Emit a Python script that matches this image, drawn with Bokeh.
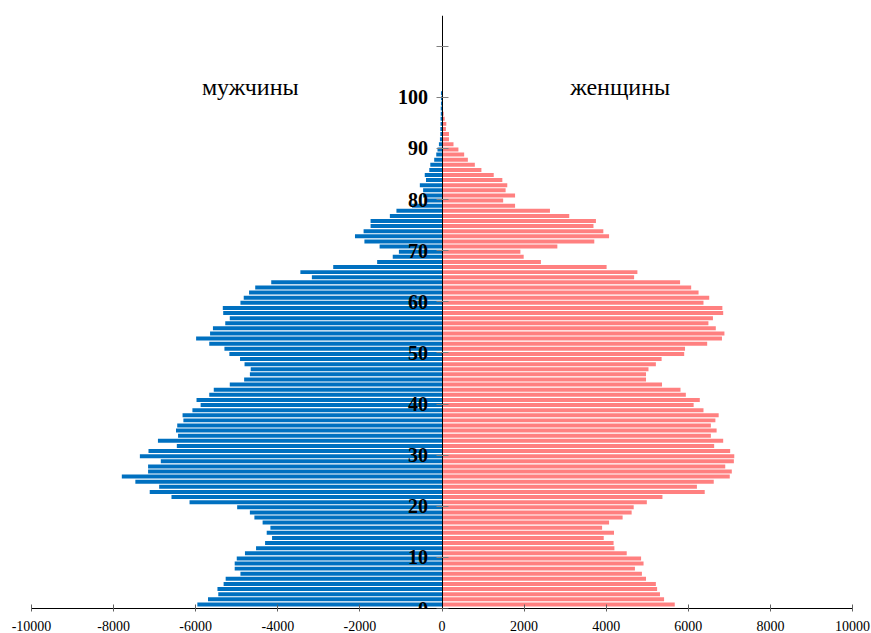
from bokeh.plotting import figure
from bokeh.models import FixedTicker, Range1d, Label, ColumnDataSource
from bokeh.embed import file_html
from bokeh.resources import INLINE

# ---- data ----
ages = list(range(0, 101))

male = [
    -5960, -5700, -5450, -5470, -5320, -5270, -4910, -5050, -5050, -5000,
    -4800, -4530, -4310, -4140, -4270, -4180, -4370, -4570, -4680, -4990,
    -6150, -6590, -7120, -6890, -7470, -7800, -7160, -7160, -6850, -7360,
    -7150, -6460, -6920, -6430, -6480, -6450, -6300, -6320, -6080, -5880,
    -5980, -5670, -5560, -5170, -4820, -4680, -4660, -4810, -4920, -5180,
    -5300, -5670, -5990, -5650, -5580, -5280, -5170, -5330, -5340, -4910,
    -4830, -4700, -4550, -4160, -3170, -3450, -2650, -1580, -1200, -1050,
    -1520, -1890, -2120, -1910, -1740, -1740, -1270, -1110, -730, -420,
    -460, -460, -540, -390, -420, -310, -285, -190, -140, -110,
    -75, -50, -40, -40, -35, -35, -30, -30, -25, -25,
    -25,
]

female = [
    5670, 5410, 5310, 5240, 5210, 4970, 4870, 4700, 4910, 4850,
    4500, 4200, 4180, 3940, 4190, 3900, 4070, 4400, 4620, 4670,
    4990, 5370, 6400, 6210, 6620, 7010, 7060, 6900, 7110, 7120,
    7020, 6630, 6850, 6550, 6690, 6550, 6660, 6740, 6370, 6130,
    6280, 5940, 5810, 5360, 4970, 4970, 5030, 5210, 5350, 5900,
    5920, 6460, 6820, 6880, 6670, 6490, 6600, 6850, 6830, 6370,
    6510, 6250, 6070, 5800, 4680, 4760, 4010, 2410, 1990, 1910,
    2810, 3710, 4070, 3930, 3690, 3750, 3100, 2630, 1780, 1490,
    1780, 1550, 1590, 1470, 1260, 960, 800, 630, 540, 400,
    280, 170, 170, 95, 105, 65, 40, 25, 15, 10,
    10,
]

x_ticks = [-10000, -8000, -6000, -4000, -2000, 0, 2000, 4000, 6000, 8000, 10000]
age_ticks = [0, 10, 20, 30, 40, 50, 60, 70, 80, 90, 100, 110]
age_tick_labels = ["0", "10", "20", "30", "40", "50", "60", "70", "80", "90", "100", ""]
series_names = ["мужчины", "женщины"]

# ---- style ----
MALE_COLOR = "#0070C0"
FEMALE_COLOR = "#FF8080"
BAR_OFFSET = 0.8
BAR_HEIGHT = 0.78

y_pos = [a + BAR_OFFSET for a in ages]
src = ColumnDataSource(dict(y=y_pos, male=male, female=female))

p = figure(width=871, height=633, output_backend="svg", toolbar_location=None,
           x_range=Range1d(-10000, 10000), y_range=Range1d(0, 116),
           min_border_left=31, min_border_right=19, min_border_top=15, min_border_bottom=20)
p.outline_line_color = None
p.xgrid.visible = False
p.ygrid.visible = False
p.background_fill_color = "white"
p.border_fill_color = "white"

p.hbar(y="y", left=0, right="male", height=BAR_HEIGHT, source=src,
       fill_color=MALE_COLOR, line_color=None)
p.hbar(y="y", left=0, right="female", height=BAR_HEIGHT, source=src,
       fill_color=FEMALE_COLOR, line_color=None)

# x axis
xa = p.xaxis[0]
xa.ticker = FixedTicker(ticks=x_ticks)
xa.major_label_overrides = {t: str(t) for t in x_ticks}
xa.minor_tick_line_color = None
xa.axis_line_color = "black"
xa.major_tick_line_color = "#606060"
xa.major_tick_in = 4
xa.major_tick_out = 3
xa.major_label_standoff = 9
xa.major_label_text_font = "Liberation Serif"
xa.major_label_text_font_size = "14px"
xa.major_label_text_color = "black"

# y axis placed at x = 0
ya = p.yaxis[0]
ya.fixed_location = 0
ya.ticker = FixedTicker(ticks=age_ticks)
ya.major_label_overrides = {t: l for t, l in zip(age_ticks, age_tick_labels)}
ya.minor_tick_line_color = None
ya.axis_line_color = "black"
ya.major_tick_line_color = "#808080"
ya.major_tick_in = 6
ya.major_tick_out = 6
ya.major_label_standoff = 8
ya.major_label_text_font = "Liberation Serif"
ya.major_label_text_font_style = "bold"
ya.major_label_text_font_size = "20px"
ya.major_label_text_color = "black"

for name, xc in zip(series_names, [-4670, 4340]):
    p.add_layout(Label(x=xc, y=102.1, text=name, text_align="center",
                       text_baseline="middle", text_font="Liberation Serif",
                       text_font_size="24px", text_color="black"))

open("out.html", "w").write(file_html(p, INLINE))
